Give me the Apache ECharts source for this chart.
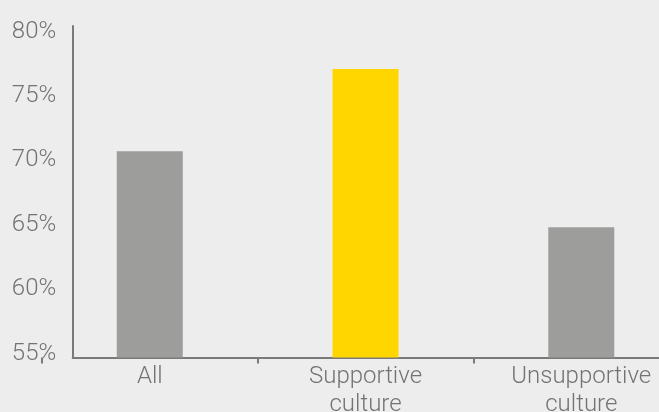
<!DOCTYPE html>
<html>
<head>
<meta charset="utf-8">
<script src="https://cdn.jsdelivr.net/npm/echarts@6/dist/echarts.min.js"></script>
<style>
  html, body { margin: 0; padding: 0; background: #ededed; }
  #chart { width: 659px; height: 412px; }
</style>
</head>
<body>
<div id="chart"></div>
<script>
// Share of respondents, by workplace culture
const categories = ['All', 'Supportive\nculture', 'Unsupportive\nculture'];
const values = [70.7, 77.1, 64.8];
const barColors = ['#9d9d9b', '#ffd600', '#9d9d9b'];

// Percentage scale shown on the left
const scaleMin = 55;
const scaleMax = 80;
const scaleStep = 5;

const textColor = '#737373';
const lineColor = '#7a7a7a';
const font = 'Roboto';

const chart = echarts.init(document.getElementById('chart'));

chart.setOption({
  backgroundColor: '#ededed',
  animation: false,
  grid: [
    // bars
    { left: 41.9, right: -30.15, top: 26, bottom: 54.5, containLabel: false, outerBoundsMode: 'none' },
    // percentage scale and baseline
    { left: 72.7, right: 0, top: 31.5, bottom: 58.5, containLabel: false, outerBoundsMode: 'none' }
  ],
  xAxis: [
    {
      type: 'category',
      gridIndex: 0,
      data: categories,
      axisLine: { show: false },
      axisTick: { show: true, length: 6, lineStyle: { color: lineColor, width: 2 } },
      axisLabel: {
        color: textColor, fontFamily: font, fontSize: 24, fontWeight: 300,
        lineHeight: 28, margin: 5, interval: 0, hideOverlap: false
      },
      splitLine: { show: false }
    },
    {
      type: 'value',
      gridIndex: 1,
      min: 0, max: 1,
      offset: 4,
      axisLine: { show: true, onZero: false, lineStyle: { color: lineColor, width: 2 } },
      axisTick: { show: false },
      axisLabel: { show: false },
      splitLine: { show: false }
    }
  ],
  yAxis: [
    {
      type: 'value',
      gridIndex: 0,
      min: 54.69, max: 80.43,
      offset: -30.8,
      axisLine: { show: true, lineStyle: { color: lineColor, width: 2 } },
      axisTick: { show: false },
      axisLabel: { show: false },
      splitLine: { show: false }
    },
    {
      type: 'value',
      gridIndex: 1,
      min: scaleMin, max: scaleMax, interval: scaleStep,
      axisLine: { show: false },
      axisTick: { show: false },
      axisLabel: {
        color: textColor, fontFamily: font, fontSize: 24, fontWeight: 300, margin: 16.5,
        formatter: '{value}%'
      },
      splitLine: { show: false }
    }
  ],
  series: [
    {
      type: 'bar',
      xAxisIndex: 0,
      yAxisIndex: 0,
      barWidth: 66,
      data: values.map((v, i) => ({ value: v, itemStyle: { color: barColors[i] } }))
    }
  ]
});
</script>
</body>
</html>
